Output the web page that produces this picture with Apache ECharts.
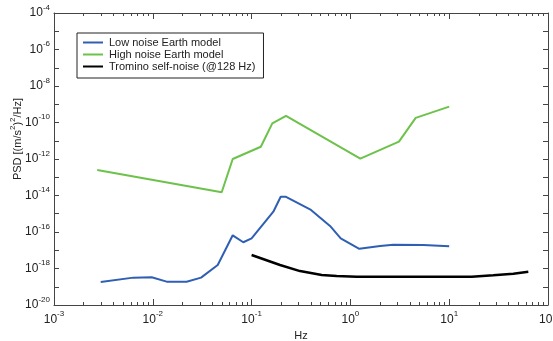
<!DOCTYPE html>
<html><head><meta charset="utf-8">
<script src="https://cdn.jsdelivr.net/npm/echarts@6/dist/echarts.min.js"></script>
<style>html,body{margin:0;padding:0;background:#fff}#c{width:553px;height:341px}</style>
</head><body><div id="c"></div>
<script>
// Low noise Earth model
const lowFreq = [0.00297, 0.00635, 0.00975, 0.0138, 0.022, 0.0308, 0.0454, 0.0644, 0.0824, 0.1, 0.166, 0.197, 0.223, 0.399, 0.622, 0.798, 1.23, 2.0, 2.72, 5.47, 10];
const lowPsd  = [1.82e-19, 3.16e-19, 3.3e-19, 1.9e-19, 1.9e-19, 3.16e-19, 1.55e-18, 6.6e-17, 2.75e-17, 4.5e-17, 1.29e-15, 8.5e-15, 8.5e-15, 1.62e-15, 2.14e-16, 4.5e-17, 1.2e-17, 1.7e-17, 2.0e-17, 1.95e-17, 1.66e-17];
// High noise Earth model
const highFreq = [0.00274, 0.0498, 0.0644, 0.124, 0.162, 0.223, 1.26, 3.1, 4.58, 10];
const highPsd  = [2.5e-13, 1.5e-14, 1.0e-12, 4.7e-12, 8.9e-11, 2.3e-10, 1.05e-12, 8.9e-12, 1.8e-10, 7.4e-10];
// Tromino self-noise (@128 Hz)
const tromFreq = [0.1, 0.194, 0.309, 0.513, 0.726, 1.16, 16.9, 27.9, 44.6, 63.2];
const tromPsd  = [5.5e-18, 1.55e-18, 7.2e-19, 4.4e-19, 3.9e-19, 3.55e-19, 3.55e-19, 4.3e-19, 5.2e-19, 6.6e-19];

const seriesNames = ['Low noise Earth model', 'High noise Earth model', 'Tromino self-noise (@128 Hz)'];
const xLabelTicks = [1e-3, 1e-2, 1e-1, 1e0, 1e1, 1e2];
const yLabelTicks = [1e-20, 1e-18, 1e-16, 1e-14, 1e-12, 1e-10, 1e-8, 1e-6, 1e-4];
const yTickValues = [1e-20,1e-19,1e-18,1e-17,1e-16,1e-15,1e-14,1e-13,1e-12,1e-11,1e-10,1e-9,1e-8,1e-7,1e-6,1e-5,1e-4];
const xMinorTicks = [];
for (let d = -3; d <= 1; d++) for (let k = 2; k <= 9; k++) xMinorTicks.push(+(k * Math.pow(10, d)).toPrecision(3));

const FONT = "'Liberation Sans', Arial, sans-serif";
const rich = {
  b: {fontSize: 12, fontFamily: FONT, color: '#222', verticalAlign: 'middle'},
  s: {fontSize: 8, fontFamily: FONT, color: '#222', verticalAlign: 'middle', padding: [0, 0, 11, 0]}
};
const powFmt = v => '{b|10}{s|' + Math.round(Math.log10(v)) + '}';
const AX = '#444';

function xAx(pos, major, labels) {
  return {
    type: 'log', logBase: 10, min: 1e-3, max: 1e2, position: pos, gridIndex: 0,
    axisLine: {show: major, lineStyle: {color: AX, width: 1}},
    axisTick: {show: true, inside: true, length: major ? 6 : 3, customValues: major ? xLabelTicks : xMinorTicks, lineStyle: {color: AX}},
    axisLabel: labels ? {show: true, customValues: xLabelTicks, formatter: powFmt, rich: rich, margin: 5} : {show: false},
    splitLine: {show: false}, minorTick: {show: false},
    name: labels ? 'Hz' : '', nameLocation: 'middle', nameGap: 19,
    nameTextStyle: {fontSize: 11, fontFamily: FONT, color: '#222'}
  };
}
function yAx(pos, labels) {
  return {
    type: 'log', logBase: 10, min: 1e-20, max: 1e-4, position: pos, gridIndex: 0,
    axisLine: {show: true, lineStyle: {color: AX, width: 1}},
    axisTick: {show: true, inside: true, length: 5, customValues: yTickValues, lineStyle: {color: AX}},
    axisLabel: labels ? {show: true, customValues: yLabelTicks, formatter: powFmt, rich: rich, margin: 4} : {show: false},
    splitLine: {show: false}, minorTick: {show: false},
    name: labels ? 'PSD [(m/s{s|2}){s|2}/Hz]' : '', nameLocation: 'middle', nameGap: 28, nameMoveOverlap: false,
    nameTextStyle: {fontSize: 11, fontFamily: FONT, color: '#222', padding: [0, 0, 0, 40],
      rich: {s: {fontSize: 8, fontFamily: FONT, color: '#222', padding: [0, 0, 9, 0]}}}
  };
}

const chart = echarts.init(document.getElementById('c'), null, {renderer: 'canvas'});
chart.setOption({
  animation: false,
  backgroundColor: '#fff',
  grid: {left: 54, right: 5, top: 13, bottom: 36, containLabel: false, outerBoundsMode: 'none'},
  xAxis: [xAx('bottom', true, true), xAx('bottom', false, false), xAx('top', true, false), xAx('top', false, false)],
  yAxis: [yAx('left', true), yAx('right', false)],
  legend: {
    orient: 'vertical', left: 77, top: 33,
    data: seriesNames,
    itemWidth: 20, itemHeight: 11, itemGap: 1,
    padding: [4, 8, 6, 5],
    itemStyle: {opacity: 0},
    borderColor: '#222', borderWidth: 1, backgroundColor: '#fff',
    textStyle: {fontSize: 11, fontFamily: FONT, color: '#222', padding: [0, 0, 0, 1]}
  },
  series: [
    {name: seriesNames[0], type: 'line', symbol: 'none', xAxisIndex: 0, yAxisIndex: 0,
     lineStyle: {color: '#2f5fb3', width: 2}, itemStyle: {color: '#2f5fb3'},
     data: lowFreq.map((f, i) => [f, lowPsd[i]])},
    {name: seriesNames[1], type: 'line', symbol: 'none', xAxisIndex: 0, yAxisIndex: 0,
     lineStyle: {color: '#6cc24a', width: 2}, itemStyle: {color: '#6cc24a'},
     data: highFreq.map((f, i) => [f, highPsd[i]])},
    {name: seriesNames[2], type: 'line', symbol: 'none', xAxisIndex: 0, yAxisIndex: 0,
     lineStyle: {color: '#000', width: 2.5}, itemStyle: {color: '#000'},
     data: tromFreq.map((f, i) => [f, tromPsd[i]])}
  ]
});
</script></body></html>
